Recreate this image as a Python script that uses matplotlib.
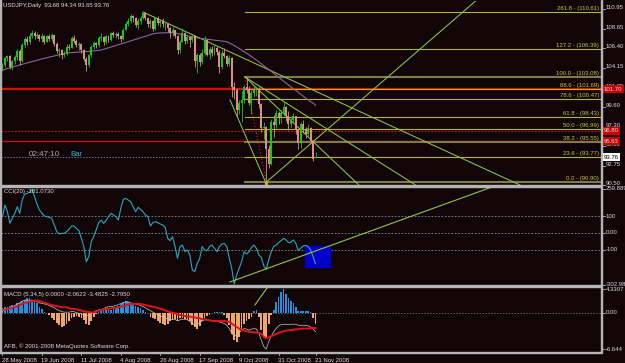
import matplotlib
matplotlib.use('Agg')
import matplotlib.pyplot as plt
import numpy as np
from matplotlib.transforms import blended_transform_factory
from matplotlib.patches import Rectangle

plt.rcParams['font.family'] = ['Liberation Sans', 'DejaVu Sans']

# ---------------- data ----------------
date_ticks = [0, 16, 32, 48, 64, 80, 96, 112, 127]
date_labels = ['28 May 2008', '19 Jun 2008', '11 Jul 2008', '4 Aug 2008', '26 Aug 2008',
               '17 Sep 2008', '9 Oct 2008', '31 Oct 2008', '21 Nov 2008']

opens = [104.0, 104.5, 105.3, 105.5, 104.2, 104.9, 105.4, 106.1, 104.9, 106.8,
         107.5, 107.1, 107.9, 108.2, 107.9, 108.0, 107.5, 107.9, 107.2, 107.9,
         107.5, 108.0, 106.9, 106.1, 106.2, 105.6, 105.8, 106.6, 106.5, 107.6,
         107.3, 106.8, 106.9, 106.2, 105.2, 104.5, 105.6, 106.6, 107.0, 106.8,
         107.6, 107.7, 107.1, 107.9, 107.4, 108.2, 108.0, 108.1, 107.8, 107.5,
         108.6, 109.3, 109.6, 110.2, 109.9, 109.1, 109.6, 110.0, 110.5, 109.9,
         109.3, 109.6, 108.7, 110.0, 109.4, 109.6, 109.2, 109.3, 108.8, 108.2,
         108.5, 107.9, 106.2, 107.2, 108.2, 107.3, 107.7, 107.4, 107.8, 104.9,
         105.6, 104.8, 105.9, 107.4, 105.7, 106.3, 105.9, 106.5, 106.0, 104.2,
         105.9, 105.5, 104.6, 105.3, 101.9, 101.6, 99.2, 100.1, 100.4, 101.9,
         101.7, 100.0, 101.2, 101.6, 101.7, 99.9, 97.1, 97.3, 94.7, 93.0,
         97.9, 97.5, 98.9, 98.4, 98.9, 99.6, 98.5, 97.6, 98.1, 98.6,
         96.9, 95.4, 97.6, 97.0, 96.4, 97.2, 95.6, 93.68]
highs = [104.7, 105.4, 105.6, 105.6, 105.1, 105.7, 106.3, 106.3, 107.0, 107.7,
         107.9, 108.2, 108.5, 108.4, 108.3, 108.1, 108.2, 108.0, 108.0, 108.1,
         108.2, 108.0, 107.1, 106.4, 106.3, 106.1, 106.9, 106.9, 107.9, 108.0,
         107.5, 107.2, 107.0, 106.3, 105.4, 105.8, 106.8, 107.3, 107.2, 107.8,
         108.2, 107.9, 108.0, 108.0, 108.3, 108.4, 108.3, 108.3, 108.0, 108.8,
         109.5, 109.9, 110.4, 110.3, 110.1, 109.9, 110.2, 110.6, 110.6, 110.0,
         109.8, 109.7, 110.1, 110.2, 109.8, 109.9, 109.6, 109.4, 108.9, 108.9,
         108.6, 108.0, 107.4, 108.8, 108.3, 108.0, 107.9, 108.0, 107.9, 105.9,
         105.9, 106.3, 107.9, 107.5, 106.6, 106.7, 106.8, 106.7, 106.2, 106.2,
         106.4, 105.7, 105.7, 105.4, 102.5, 101.8, 100.4, 101.5, 102.2, 103.1,
         102.0, 101.6, 102.0, 101.9, 101.9, 100.0, 97.9, 97.4, 95.2, 98.2,
         98.7, 99.3, 99.1, 99.3, 100.3, 99.7, 99.1, 98.4, 98.9, 98.6,
         97.0, 97.8, 98.1, 97.3, 97.6, 97.3, 95.7, 94.34]
lows = [103.8, 104.3, 104.9, 104.0, 103.9, 104.6, 105.1, 104.5, 104.8, 106.6,
        106.8, 106.9, 107.6, 107.5, 107.6, 107.3, 107.1, 106.9, 107.1, 107.3,
        107.3, 106.7, 105.9, 105.4, 105.2, 105.4, 105.6, 106.2, 106.4, 107.0,
        106.6, 106.2, 105.9, 104.9, 103.8, 104.2, 105.4, 106.3, 106.4, 106.6,
        107.3, 106.8, 106.9, 107.2, 107.3, 107.7, 107.6, 107.5, 107.2, 107.4,
        108.5, 109.0, 109.4, 109.5, 108.9, 108.7, 109.2, 109.8, 109.7, 108.9,
        108.8, 108.4, 108.6, 109.1, 108.9, 108.9, 108.6, 108.3, 107.6, 107.8,
        107.6, 105.8, 105.9, 107.1, 106.9, 107.0, 106.6, 107.1, 104.2, 103.5,
        104.4, 104.6, 105.7, 105.5, 105.2, 105.5, 105.6, 105.7, 103.5, 104.0,
        105.3, 104.4, 104.4, 100.8, 100.5, 98.5, 98.8, 97.9, 100.1, 101.2,
        99.8, 98.8, 100.7, 100.9, 99.5, 96.7, 95.9, 90.9, 92.5, 92.8,
        96.1, 97.1, 97.6, 97.7, 98.5, 98.0, 96.9, 97.3, 97.7, 96.4,
        94.7, 94.8, 96.6, 96.0, 96.2, 95.4, 93.3, 93.65]
closes = [104.5, 105.3, 105.5, 104.2, 104.9, 105.4, 106.1, 104.9, 106.8, 107.5,
          107.1, 107.9, 108.2, 107.9, 108.0, 107.5, 107.9, 107.2, 107.9, 107.5,
          108.0, 106.9, 106.1, 106.2, 105.6, 105.8, 106.6, 106.5, 107.6, 107.3,
          106.8, 106.9, 106.2, 105.2, 104.5, 105.6, 106.6, 107.0, 106.8, 107.6,
          107.7, 107.1, 107.9, 107.4, 108.2, 108.0, 108.1, 107.8, 107.5, 108.6,
          109.3, 109.6, 110.2, 109.9, 109.1, 109.6, 110.0, 110.5, 109.9, 109.3,
          109.6, 108.7, 110.0, 109.4, 109.6, 109.2, 109.3, 108.8, 108.2, 108.5,
          107.9, 106.2, 107.2, 108.2, 107.3, 107.7, 107.4, 107.8, 104.9, 105.6,
          104.8, 105.9, 107.4, 105.7, 106.3, 105.9, 106.5, 106.0, 104.2, 105.9,
          105.5, 104.6, 105.3, 101.9, 101.6, 99.2, 100.1, 100.4, 101.9, 101.7,
          100.0, 101.2, 101.6, 101.7, 99.9, 97.1, 97.3, 94.7, 93.0, 97.9,
          97.5, 98.9, 98.4, 98.9, 99.6, 98.5, 97.6, 98.1, 98.6, 96.9,
          95.4, 97.6, 97.0, 96.4, 97.2, 95.6, 93.6, 93.76]

ma_line = [103.90, 103.98, 104.06, 104.15, 104.23, 104.32, 104.40, 104.48,
           104.56, 104.64, 104.72, 104.80, 104.88, 104.95, 105.03, 105.11, 105.19, 105.26, 105.34, 105.41,
           105.48, 105.55, 105.62, 105.69, 105.75, 105.81, 105.87,
           105.90, 105.92, 105.94, 105.96, 105.98, 106.00, 106.02, 106.04, 106.06, 106.09, 106.12, 106.15, 106.19, 106.22,
           106.30, 106.39, 106.48, 106.57, 106.66, 106.75, 106.84, 106.93, 107.02, 107.11, 107.21, 107.30, 107.39,
           107.48, 107.57, 107.66, 107.75, 107.84, 107.93, 108.01, 108.09, 108.17,
           108.19, 108.21, 108.22, 108.23, 108.24, 108.24, 108.24,
           108.19, 108.13, 108.07, 108.01, 107.95, 107.89, 107.83, 107.77, 107.70, 107.64, 107.58,
           107.55, 107.51, 107.48, 107.44, 107.41, 107.37, 107.34, 107.30, 107.26, 107.23, 107.19,
           107.05, 106.90, 106.74, 106.58, 106.40, 106.22, 106.05, 105.87,
           105.67, 105.46, 105.26, 105.06,
           104.84, 104.62, 104.40, 104.18, 103.96, 103.73, 103.51, 103.28, 103.05, 102.82, 102.60, 102.38,
           102.16, 101.94, 101.72, 101.50, 101.28, 101.06, 100.84, 100.62, 100.41, 100.21, 100.05, 99.80]

cci = [96, 165, 125, 57, 86, 116, 155, 116, 194, 229,
       233, 240, 255, 214, 170, 135, 116, 100, 96, 92,
       86, 47, 8, -6, -2, -2, 8, 22, 41, 41,
       27, 14, -31, -80, -169, -139, -51, -22, 18, 61,
       76, 57, 73, 96, 116, 106, 96, 76, 145, 198,
       204, 194, 184, 155, 125, 151, 139, 125, 106, 96,
       41, 61, 67, 61, 53, 47, 33, -31, -45, -22,
       -80, -149, -80, -71, -110, -100, -129, -218, -227, -178,
       -149, -80, -100, -104, -80, -71, -90, -110, -80, -65,
       -61, -80, -149, -208, -300, -247, -208, -169, -110, -124,
       -110, -84, -71, -90, -129, -143, -194, -214, -159, -110,
       -80, -71, -57, -45, -31, -41, -57, -53, -41, -61,
       -104, -90, -76, -73, -80, -100, -139, -181]

macd_hist = [0.8, 1.1, 1.0, 1.2, 1.4, 1.4, 1.7, 1.8, 2.2, 2.4,
             2.6, 2.6, 2.4, 2.3, 1.7, 1.1, 0.6, 0.2, -0.1, -0.4,
             -0.9, -1.3, -1.8, -2.3, -2.6, -2.4, -2.1, -1.6, -1.0, -0.7,
             -0.6, -0.7, -0.9, -1.3, -2.1, -2.3, -1.6, -0.7, -0.2, 0.2,
             0.5, 0.6, 0.8, 0.6, 0.5, 0.6, 0.8, 1.2, 1.6, 2.0,
             2.2, 2.0, 1.7, 1.4, 1.2, 1.1, 0.8, 0.5, 0.1, -0.1,
             -0.7, -1.0, -1.2, -1.6, -1.8, -2.0, -2.3, -2.1, -1.6, -1.3,
             -1.2, -1.5, -1.0, -0.9, -1.2, -1.3, -1.6, -2.3, -2.7, -2.9,
             -2.4, -1.5, -0.9, -0.6, -0.4, -0.1, 0.1, 0.2, 0.2, 0.05,
             -0.4, -1.0, -2.3, -3.8, -5.0, -5.3, -4.4, -2.9, -2.0, -1.5,
             -1.2, -0.7, 0.4, 0.5, -0.7, -3.2, -4.7, -4.4, -2.0, -0.4,
             0.5, 2.0, 2.9, 3.7, 4.33, 3.4, 2.6, 2.2, 1.7, 1.1,
             0.4, 0.3, 0.3, 0.4, 0.3, 0.2, -1.0, -2.06]

macd_main = [0.3, 0.5, 0.7, 0.8, 1.1, 1.3, 1.6, 1.8, 2.1, 2.3,
             2.3, 2.3, 2.3, 2.2, 2.0, 1.8, 1.7, 1.6, 1.5, 1.3,
             1.1, 0.9, 0.6, 0.4, 0.2, 0.1, 0.1, 0.1, 0.2, 0.2,
             0.0, -0.1, -0.2, -0.4, -0.6, -0.5, -0.1, 0.1, 0.4, 0.5,
             0.6, 0.7, 1.0, 1.1, 1.1, 1.2, 1.3, 1.5, 1.7, 1.8,
             2.0, 2.0, 1.8, 1.7, 1.6, 1.5, 1.3, 1.1, 0.9, 0.6,
             0.4, 0.1, -0.1, -0.4, -0.6, -0.7, -1.0, -1.2, -1.2, -1.2,
             -1.2, -1.5, -1.3, -1.2, -1.2, -1.3, -1.6, -2.0, -2.2, -2.1,
             -1.8, -1.5, -1.3, -1.3, -1.4, -1.5, -1.6, -1.6, -1.7, -1.8,
             -2.0, -2.3, -2.9, -3.7, -4.3, -4.1, -3.7, -3.2, -2.9, -3.0,
             -3.2, -3.0, -2.9, -3.0, -3.8, -5.0, -6.2, -6.64, -5.3, -4.3,
             -3.5, -2.9, -2.4, -2.2, -2.1, -2.1, -2.2, -2.1, -2.1, -2.1,
             -2.3, -2.3, -2.4, -2.3, -2.4, -2.6, -3.0, -3.48]

macd_signal = [0.5, 0.55, 0.7, 0.8, 0.9, 1.1, 1.2, 1.4, 1.6, 1.8,
               1.9, 2.0, 2.1, 2.2, 2.2, 2.1, 2.0, 1.8, 1.7, 1.5,
               1.4, 1.3, 1.2, 1.1, 1.0, 1.0, 1.0, 0.85, 0.7, 0.7,
               0.6, 0.5, 0.4, 0.25, 0.2, 0.1, 0.05, 0.05, 0.2, 0.4,
               0.5, 0.6, 0.7, 0.7, 0.8, 0.85, 0.9, 1.0, 1.1, 1.2,
               1.3, 1.5, 1.6, 1.6, 1.6, 1.6, 1.6, 1.5, 1.4, 1.3,
               1.2, 1.1, 1.0, 0.85, 0.7, 0.6, 0.4, 0.25, 0.1, 0.0,
               -0.1, -0.3, -0.4, -0.5, -0.6, -0.7, -0.7, -0.8, -0.85, -1.0,
               -1.0, -1.2, -1.2, -1.3, -1.4, -1.5, -1.5, -1.5, -1.5, -1.5,
               -1.5, -1.6, -1.65, -2.0, -2.3, -2.6, -2.9, -3.2, -3.3, -3.4,
               -3.5, -3.5, -3.6, -3.6, -3.7, -3.9, -4.4, -4.7, -4.5, -4.3,
               -4.1, -3.9, -3.7, -3.5, -3.4, -3.3, -3.2, -3.2, -3.1, -3.05,
               -3.0, -2.9, -2.9, -2.9, -2.9, -2.85, -2.8, -2.795]

fib_names = ['0.0', '23.6', '38.2', '50.0', '61.8', '78.6', '88.6', '100.0', '127.2', '261.8']
fib_prices = [90.90, 93.77, 95.55, 96.99, 98.43, 100.47, 101.69, 103.08, 106.39, 110.61]
fib_start_bar = 98.5

price_ticks = [110.95, 108.65, 106.40, 104.15, 101.85, 99.60, 97.30, 95.05, 92.75, 90.50]
cci_ticks = [259.889, 100, 0, -100, -302.987]
cci_tick_labels = ['259.889', '100', '0.00', '-100', '-302.987']
macd_ticks = [4.3307, 0.0, -6.644]
macd_tick_labels = ['4.3307', '0.00', '-6.644']

red_levels = [101.65, 96.80, 95.62]
red_box_labels = ['101.70', '96.80', '95.63']
bid_price = 93.76

# trend lines (bar, value) pairs
main_lines = [((57.0, 110.64), (210.8, 90.40)),
              ((98.4, 103.08), (168.2, 90.40)),
              ((98.4, 103.08), (145.0, 90.40)),
              ((92.3, 100.41), (106.8, 90.80)),
              ((106.8, 90.80), (192.5, 112.07))]
fib_anchor = ((98.4, 103.08), (107.0, 90.90))
cci_line = ((92.3, -288), (198.6, 270.6))
macd_line = ((102.4, 1.41), (107.3, 4.52))
cci_box = (122.8, -200, 10.1, 124)   # x, y, width, height

# ---------------- style ----------------
W, H = 625, 363
BG = '#120508'
TXT = '#dcdcdc'
SEP = '#b4b4b4'
BULL = '#14c814'
BEAR = '#e08c8c'
LINE_G = '#8cc83c'
FS = 4.3

fig = plt.figure(figsize=(W / 100, H / 100), dpi=100)
fig.patch.set_facecolor(BG)

X0 = -0.6085
X1 = 242.80


def add_ax(y0, y1):
    ax = fig.add_axes([1 / W, 1 - y1 / H, 600 / W, (y1 - y0) / H])
    ax.set_facecolor(BG)
    for s in ax.spines.values():
        s.set_visible(False)
    ax.set_xticks([])
    ax.set_yticks([])
    ax.set_xlim(X0, X1)
    return ax


ax1 = add_ax(1, 185)
ax2 = add_ax(187, 285)
ax3 = add_ax(287, 352)
ax1.set_ylim(90.517, 111.925)
ax2.set_ylim(-305.9, 270.6)
ax3.set_ylim(-7.18, 4.70)

n = len(closes)
x = np.arange(n)
o = np.array(opens); h = np.array(highs); l = np.array(lows); c = np.array(closes)

# ---- main panel ----
# red horizontal lines
ax1.axhline(red_levels[0], color='#d41010', lw=1.6, zorder=1)
ax1.axhline(red_levels[1], color='#d41010', lw=0.8, ls=(0, (1.5, 1.5)), zorder=1)
ax1.axhline(red_levels[2], color='#c41010', lw=1.0, zorder=1)
ax1.plot([X0, fib_start_bar], [bid_price, bid_price], color='#6a7290', lw=0.7,
         ls=(0, (1.5, 1.5)), zorder=1)

# fibonacci levels
for name, p in zip(fib_names, fib_prices):
    thick = name in ('0.0', '100.0', '38.2')
    ax1.plot([fib_start_bar, X1], [p, p], color='#7c7c46' if thick else '#b4b432',
             lw=1.5 if thick else 0.8, zorder=2)
    ax1.text(0.997, p + 0.12, f'{name} - ({p:.2f})', transform=blended_transform_factory(ax1.transAxes, ax1.transData),
             ha='right', va='bottom', fontsize=FS, color='#c8c83c', zorder=5)

# fib anchor dotted red line
ax1.plot([fib_anchor[0][0], fib_anchor[1][0]], [fib_anchor[0][1], fib_anchor[1][1]],
         color='#e02020', lw=0.8, ls=(0, (1, 2)), zorder=2)

for (a, b) in main_lines:
    ax1.plot([a[0], b[0]], [a[1], b[1]], color=LINE_G, lw=0.75, zorder=2)

# moving average
ax1.plot(x, ma_line, color='#8a64a0', lw=0.8, zorder=3)

# candles
cols = [BULL if cc >= oo else BEAR for oo, cc in zip(o, c)]
ax1.vlines(x, l, h, colors=cols, lw=0.6, zorder=4)
body = np.maximum(np.abs(c - o), 0.06)
ax1.bar(x, body, bottom=np.minimum(o, c), width=0.8, color=cols, linewidth=0, zorder=4)

# anchor marker at the low
ax1.plot([106.8], [90.80], marker='s', ms=1.5, color='#e0a020', zorder=5, clip_on=False)

# title and clock
fig.text(3 / W, 1 - 6 / H, 'USDJPY,Daily  93.68 94.34 93.65 93.76', fontsize=FS, color=TXT,
         ha='left', va='center')
fig.text(29 / W, 1 - 154 / H, '02:47:10', fontsize=5.8, color='#a8a8a8', ha='left', va='center')
fig.text(70 / W, 1 - 154 / H, 'Bar', fontsize=5.8, color='#20b4c8', ha='left', va='center')

tr1 = blended_transform_factory(ax1.transAxes, ax1.transData)
for p in price_ticks:
    ax1.plot([1.0, 1.006], [p, p], transform=tr1, color=SEP, lw=0.6, clip_on=False)
    ax1.text(1.0075, p + 0.18, f'{p:.2f}', transform=tr1, fontsize=FS, color=TXT,
             ha='left', va='center', clip_on=False)

for p, lab in zip(red_levels, red_box_labels):
    ax1.text(1.005, p, lab, transform=tr1, fontsize=FS, color='#ffd8d8', ha='left', va='center',
             clip_on=False, bbox=dict(boxstyle='square,pad=0.25', fc='#c80000', ec='none'))
ax1.text(1.005, bid_price, f'{bid_price:.2f}', transform=tr1, fontsize=FS, color='#000000',
         ha='left', va='center', clip_on=False,
         bbox=dict(boxstyle='square,pad=0.25', fc='#ffffff', ec='none'))

# ---- CCI panel ----
for lv in (100, 0, -100):
    ax2.axhline(lv, color='#7890a0', lw=0.6, ls=(0, (2, 2)), zorder=1)
ax2.add_patch(Rectangle((cci_box[0], cci_box[1]), cci_box[2], cci_box[3], color='#0000c8', zorder=2))
ax2.plot(x, cci, color='#26a8bc', lw=0.8, zorder=3)
ax2.plot([cci_line[0][0], cci_line[1][0]], [cci_line[0][1], cci_line[1][1]], color=LINE_G,
         lw=0.8, zorder=4)
ax2.text(3 / 600, 0.955, 'CCI(20) -181.0730', transform=ax2.transAxes, fontsize=FS, color=TXT,
         ha='left', va='center')
tr2 = blended_transform_factory(ax2.transAxes, ax2.transData)
for v, lab in zip(cci_ticks, cci_tick_labels):
    ax2.plot([1.0, 1.006], [v, v], transform=tr2, color=SEP, lw=0.6, clip_on=False)
    ax2.text(1.0075, v, lab, transform=tr2, fontsize=FS, color=TXT, ha='left', va='center',
             clip_on=False)

# ---- MACD panel ----
ax3.axhline(0, color='#708070', lw=0.6, ls=(0, (1.5, 2)), zorder=1)
hist = np.array(macd_hist)
hcols = ['#2090e8' if v >= 0 else '#f0a868' for v in hist]
ax3.bar(x, hist, width=0.7, color=hcols, linewidth=0, zorder=2)
ax3.plot(x, macd_main, color='#c8c8c8', lw=0.5, zorder=3)
ax3.plot(x, macd_signal, color='#e01414', lw=1.4, zorder=4)
ax3.plot([macd_line[0][0], macd_line[1][0]], [macd_line[0][1], macd_line[1][1]], color=LINE_G,
         lw=0.8, zorder=5)
ax3.text(3 / 600, 0.88, 'MACD (5,34,5) 0.0000 -2.0623 -3.4825 -2.7950', transform=ax3.transAxes,
         fontsize=FS, color=TXT, ha='left', va='center')
ax3.text(3 / 600, 0.09, 'AFB, \u00a9 2001-2008 MetaQuotes Software Corp.', transform=ax3.transAxes,
         fontsize=FS, color=TXT, ha='left', va='center')
tr3 = blended_transform_factory(ax3.transAxes, ax3.transData)
for v, lab in zip(macd_ticks, macd_tick_labels):
    ax3.plot([1.0, 1.006], [v, v], transform=tr3, color=SEP, lw=0.6, clip_on=False)
    ax3.text(1.0075, v, lab, transform=tr3, fontsize=FS, color=TXT, ha='left', va='center',
             clip_on=False)

# date axis
trd = blended_transform_factory(ax3.transData, ax3.transAxes)
for b, lab in zip(date_ticks, date_labels):
    ax3.plot([b, b], [0, -0.05], transform=trd, color=SEP, lw=0.6, clip_on=False)
    ax3.text(b - 0.2, -0.085, lab, transform=trd, fontsize=FS, color=TXT, ha='left', va='top',
             clip_on=False)

# frame / separators
def frect(x0, y0, w, hh, col):
    fig.patches.append(Rectangle((x0 / W, 1 - (y0 + hh) / H), w / W, hh / H,
                                 transform=fig.transFigure, color=col, zorder=10))

frect(0, 185, 601, 2, SEP)
frect(0, 285, 601, 2, SEP)
frect(0, 352, 601, 1, SEP)
frect(601, 0, 1, 353, SEP)
frect(0, 0, 1, 353, SEP)

fig.savefig('out.png', dpi=100, facecolor=BG)
